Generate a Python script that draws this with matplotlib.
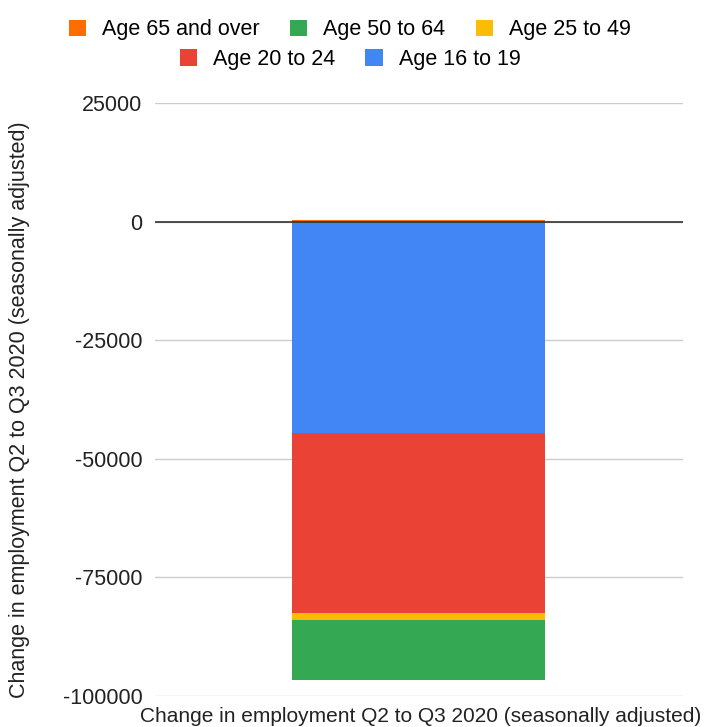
import matplotlib
matplotlib.use("Agg")
import matplotlib.pyplot as plt
from matplotlib.patches import Patch

plt.rcParams['font.family'] = ['Liberation Sans', 'DejaVu Sans']

# change in employment Q2 -> Q3 2020, by age group
groups = ["Age 16 to 19", "Age 20 to 24", "Age 25 to 49", "Age 50 to 64", "Age 65 and over"]
changes = [-44500, -38000, -1500, -12600, 400]
colors = ["#4285f4", "#ea4335", "#fbbc04", "#34a853", "#ff6d01"]
category = ["Change in employment Q2 to Q3 2020 (seasonally adjusted)"]
yticks = [25000, 0, -25000, -50000, -75000, -100000]

FS = 15.5

fig = plt.figure(figsize=(7.07, 7.27), dpi=100)
ax = fig.add_axes([0.219, 0.0426, 0.747, 0.8157])

# stack negatives downwards, positives upwards
neg_base = 0
pos_base = 0
for name, val, col in zip(groups, changes, colors):
    if val < 0:
        ax.bar(0, val, bottom=neg_base, width=0.479, color=col, zorder=3)
        neg_base += val
    else:
        ax.bar(0, val, bottom=pos_base, width=0.479, color=col, zorder=3)
        pos_base += val

ax.set_xlim(-0.5, 0.5)
ax.set_ylim(-100000, 25000)
ax.set_yticks(yticks)
ax.set_yticklabels([str(t) for t in yticks], fontsize=FS, color="#222222")
ax.set_xticks([])
ax.grid(axis="y", color="#cccccc", linewidth=1, zorder=0)
ax.axhline(0, color="#333333", linewidth=1.2, zorder=4)
ax.tick_params(axis="y", length=0, pad=9)
for s in ax.spines.values():
    s.set_visible(False)

fig.text(0.028, 0.437, "Change in employment Q2 to Q3 2020 (seasonally adjusted)",
         rotation=90, ha="center", va="center", fontsize=FS, color="#222222")
fig.text(0.595, 0.014, category[0], ha="center", va="center", fontsize=15, color="#222222")

# legend in two centred rows, same order as the original
handles = {g: Patch(facecolor=c) for g, c in zip(groups, colors)}
row1 = ["Age 65 and over", "Age 50 to 64", "Age 25 to 49"]
row2 = ["Age 20 to 24", "Age 16 to 19"]
for row, y in [(row1, 0.959), (row2, 0.918)]:
    fig.legend([handles[g] for g in row], row, loc="center", bbox_to_anchor=(0.495, y),
               ncol=len(row), frameon=False, fontsize=FS, handlelength=0.8,
               handleheight=0.8, handletextpad=0.75, columnspacing=1.4,
               borderpad=0, borderaxespad=0)

fig.savefig("out.png", dpi=100)
